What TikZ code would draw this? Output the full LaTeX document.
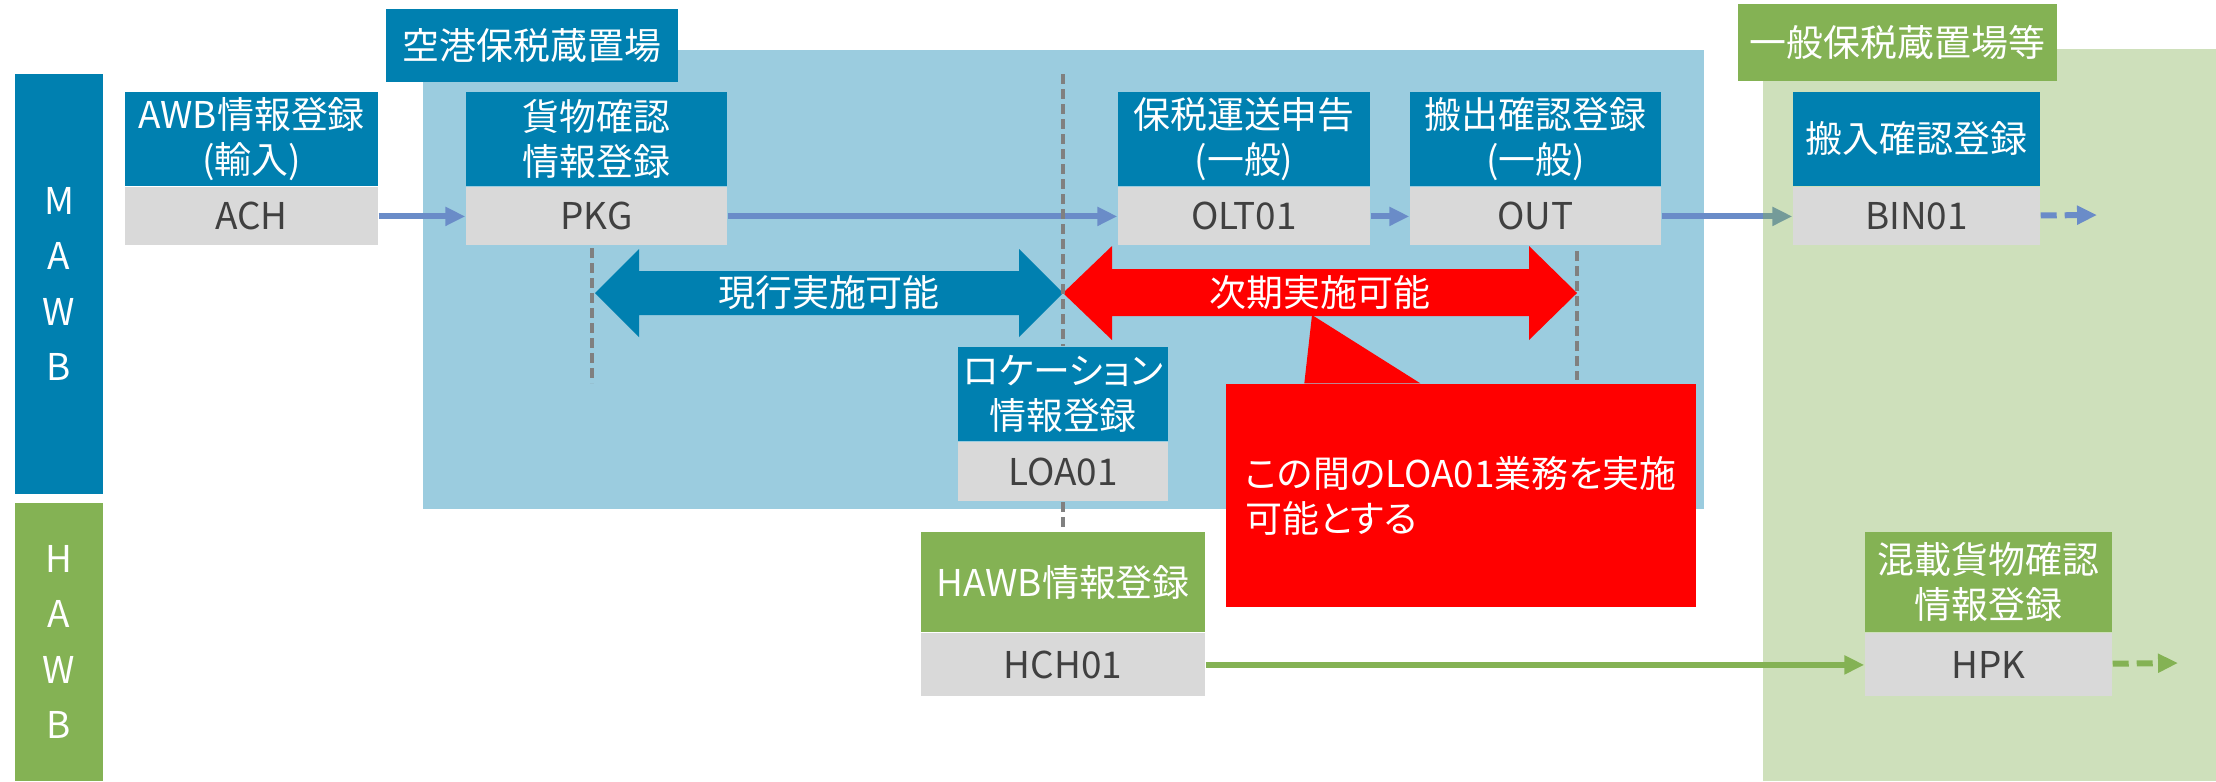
\documentclass[tikz,border=0pt]{standalone}
\usepackage{fontspec}
\setmainfont[RawFeature=+palt]{Noto Sans CJK JP}
\usetikzlibrary{arrows.meta,positioning,backgrounds}
\definecolor{boxblue}{RGB}{0,128,176}
\definecolor{areablue}{RGB}{155,204,223}
\definecolor{boxgreen}{RGB}{132,178,84}
\definecolor{codegray}{RGB}{217,217,217}
\definecolor{codetext}{RGB}{64,64,64}
\definecolor{flowblue}{RGB}{106,140,200}
\definecolor{divgray}{RGB}{128,128,128}

\begin{document}
\begin{tikzpicture}[x=.1mm,y=-.1mm,font=\fontsize{10.5}{12.8}\selectfont,
    ttl/.style={fill=boxblue,text=white,inner sep=0,align=center,minimum height=9.4mm},
    code/.style={fill=codegray,text=codetext,inner sep=0,minimum height=5.8mm},
    flow/.style={flowblue,line width=.6mm,-{Triangle[length=2mm,width=1.8mm]}},
    flowdash/.style={flow,dash pattern=on 1.6mm off .8mm},
    divline/.style={divgray,line width=.4mm,dash pattern=on 1mm off .5mm},
    sidebar/.style={text=white,inner sep=0,minimum width=8.8mm,align=center,font=\fontsize{10.5}{15.7}\selectfont},
    arealbl/.style={text=white,inner sep=0}]
  \useasboundingbox (0,0) rectangle (2216,781);

  % MAWB / HAWB
  \node[sidebar,fill=boxblue,minimum height=42mm] (mawb) at (59,284) {M\\A\\W\\B};
  \node[sidebar,fill=boxgreen,minimum height=27.8mm] (hawbbar) at (59,642) {H\\A\\W\\B};

  % area labels
  \node[arealbl,fill=boxblue,minimum width=29.2mm,minimum height=7.3mm] (airport) at (532,45.5) {空港保税蔵置場};
  \node[arealbl,fill=boxgreen,minimum width=31.9mm,minimum height=7.7mm] (general) at (1897.5,42.5) {一般保税蔵置場等};

  % MAWB row
  \foreach \n/\x/\w/\t/\c in {awb/251.5/25.3/{AWB情報登録\\(輸入)}/ACH,
      pkg/596.5/26.1/{貨物確認\\情報登録}/PKG,
      olt/1244/25.2/{保税運送申告\\(一般)}/OLT01,
      out/1535.5/25.1/{搬出確認登録\\(一般)}/OUT,
      bin/1916.5/24.7/{搬入確認登録}/BIN01} {
    \node[ttl,minimum width=\w mm] (\n) at (\x,139) {\t};
    \node[code,minimum width=\w mm,below=0pt of \n] (\n-c) {\c};
  }

  % LOA01, HAWB row
  \node[ttl,minimum width=21mm] (loa) at (1063,394) {ロケーション\\情報登録};
  \node[code,minimum width=21mm,minimum height=5.9mm,below=0pt of loa] (loa-c) {LOA01};
  \node[ttl,fill=boxgreen,minimum width=28.4mm,minimum height=10mm] (hawb) at (1063,582) {HAWB情報登録};
  \node[code,minimum width=28.4mm,minimum height=6.3mm,below=0pt of hawb] (hawb-c) {HCH01};
  \node[ttl,fill=boxgreen,minimum width=24.7mm,minimum height=10mm] (hpk) at (1988.5,582) {混載貨物確認\\情報登録};
  \node[code,minimum width=24.7mm,minimum height=6.3mm,below=0pt of hpk] (hpk-c) {HPK};

  % range arrows
  \fill[boxblue] (595,293) -- (639,249) -- (639,271) -- (1019,271) -- (1019,249) -- (1063,293)
    -- (1019,337) -- (1019,315) -- (639,315) -- (639,337) -- cycle;
  \node[text=white] (nowlbl) at (829,293) {現行実施可能};
  \fill[red] (1063,293) -- (1112,246) -- (1112,269) -- (1529,269) -- (1529,246) -- (1577,293)
    -- (1529,340) -- (1529,316) -- (1112,316) -- (1112,340) -- cycle;
  \node[text=white] (nextlbl) at (1320,293) {次期実施可能};

  % callout
  \node[fill=red,text=white,minimum width=47mm,minimum height=22.3mm,align=left] (note) at (1461,495.5) {この間のLOA01業務を実施\\可能とする};
  \fill[red] ([xshift=7.9mm]note.north west) -- (1312,315) -- ([xshift=19.5mm]note.north west) -- cycle;

  % flows
  \draw[flow] (awb-c) -- (pkg-c);
  \draw[flow] (pkg-c) -- (olt-c);
  \draw[flow] (olt-c) -- (out-c);
  \coordinate (binnext) at (2097,215);
  \draw[flowdash] (bin-c) -- (binnext);
  \draw[flow,boxgreen] (hawb-c) -- (hpk-c);
  \coordinate (hpknext) at (2178,663);
  \draw[flowdash,boxgreen] (hpk-c) -- (hpknext);

  % dividers
  \coordinate (divtop) at (1063,74);
  \draw[divline] (divtop) -- (loa.north);
  \draw[divline] (loa-c.south) -- (hawb.north);
  \draw[divline] (592,248) -- (592,383);
  \draw[divline] (1577,251) -- (1577,380);

  % areas
  \begin{scope}[on background layer]
    \fill[areablue] (423,50) rectangle (1704,509);
    \draw[flow] (out-c) -- (bin-c);
    \fill[boxgreen,opacity=.4] (1763,49) rectangle (2216,781);
  \end{scope}
\end{tikzpicture}
\end{document}
